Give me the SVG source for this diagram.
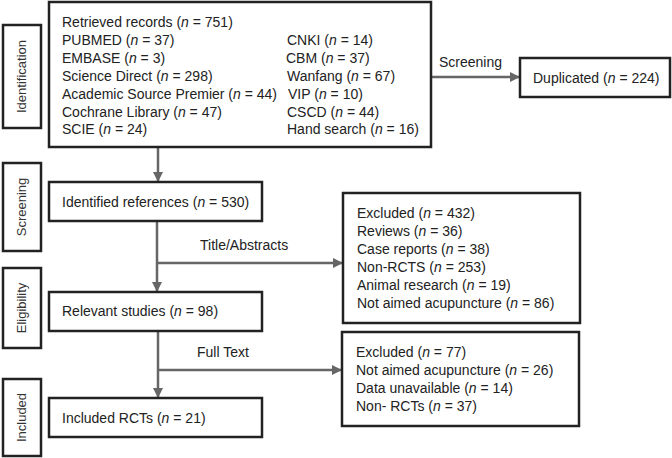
<svg xmlns="http://www.w3.org/2000/svg" width="672" height="458" viewBox="0 0 672 458">
<style>
.box{fill:#fff;stroke:#222;stroke-width:2.5}
.t{font-family:"Liberation Sans",Arial,sans-serif;font-size:14px;fill:#222}
.lab{font-family:"Liberation Sans",Arial,sans-serif;font-size:13px;fill:#333;text-anchor:middle}
.c{stroke:#666;stroke-width:2.5;fill:none}
</style>
<defs>
<marker id="ah" viewBox="0 0 10 10" refX="10" refY="5" markerWidth="4" markerHeight="4" orient="auto" markerUnits="strokeWidth">
<path d="M0,0 L10,5 L0,10 z" fill="#666"/>
</marker>
</defs>
<rect width="672" height="458" fill="#fff"/>
<g id="stage-identification"><rect class="box" x="3" y="25" width="38" height="103"/><text class="lab" transform="translate(26,76.5) rotate(-90)">Identification</text></g>
<g id="stage-screening"><rect class="box" x="3" y="163" width="38" height="88"/><text class="lab" transform="translate(26,207) rotate(-90)">Screening</text></g>
<g id="stage-eligibility"><rect class="box" x="3" y="268" width="38" height="80"/><text class="lab" transform="translate(26,308) rotate(-90)">Eligibility</text></g>
<g id="stage-included"><rect class="box" x="3" y="379" width="38" height="77"/><text class="lab" transform="translate(26,417.5) rotate(-90)">Included</text></g>
<g id="connectors">
<path class="c" d="M431,77 H520" marker-end="url(#ah)"/>
<path class="c" d="M158,147 V182" marker-end="url(#ah)"/>
<path class="c" d="M157,221 V292" marker-end="url(#ah)"/>
<path class="c" d="M157,263 H343" marker-end="url(#ah)"/>
<path class="c" d="M158,331 V398" marker-end="url(#ah)"/>
<path class="c" d="M158,370 H342" marker-end="url(#ah)"/>
<text class="t" x="439" y="67">Screening</text>
<text class="t" x="200" y="250">Title/Abstracts</text>
<text class="t" x="197" y="357">Full Text</text>
</g>
<g id="retrieved"><rect class="box" x="49" y="2" width="382" height="145"/>
<text class="t" x="62" y="27">Retrieved records (<tspan font-style="italic">n</tspan> = 751)</text>
<text class="t" x="62" y="45">PUBMED (<tspan font-style="italic">n</tspan> = 37)</text>
<text class="t" x="62" y="63">EMBASE (<tspan font-style="italic">n</tspan> = 3)</text>
<text class="t" x="62" y="81">Science Direct (<tspan font-style="italic">n</tspan> = 298)</text>
<text class="t" x="62" y="99" textLength="215" lengthAdjust="spacingAndGlyphs">Academic Source Premier (<tspan font-style="italic">n</tspan> = 44)</text>
<text class="t" x="62" y="117">Cochrane Library (<tspan font-style="italic">n</tspan> = 47)</text>
<text class="t" x="62" y="134">SCIE (<tspan font-style="italic">n</tspan> = 24)</text>
<text class="t" x="287" y="45">CNKI (<tspan font-style="italic">n</tspan> = 14)</text>
<text class="t" x="286" y="63">CBM (<tspan font-style="italic">n</tspan> = 37)</text>
<text class="t" x="287" y="81">Wanfang (<tspan font-style="italic">n</tspan> = 67)</text>
<text class="t" x="288" y="99">VIP (<tspan font-style="italic">n</tspan> = 10)</text>
<text class="t" x="287" y="117">CSCD (<tspan font-style="italic">n</tspan> = 44)</text>
<text class="t" x="287" y="134">Hand search (<tspan font-style="italic">n</tspan> = 16)</text>
</g>
<g id="duplicated"><rect class="box" x="520" y="58" width="150" height="39"/><text class="t" x="533" y="83">Duplicated (<tspan font-style="italic">n</tspan> = 224)</text></g>
<g id="identified"><rect class="box" x="49" y="182" width="213" height="39"/><text class="t" x="62" y="207">Identified references (<tspan font-style="italic">n</tspan> = 530)</text></g>
<g id="excluded1"><rect class="box" x="343" y="193" width="237" height="130"/>
<text class="t" x="357" y="218">Excluded (<tspan font-style="italic">n</tspan> = 432)</text>
<text class="t" x="357" y="236">Reviews (<tspan font-style="italic">n</tspan> = 36)</text>
<text class="t" x="357" y="254">Case reports (<tspan font-style="italic">n</tspan> = 38)</text>
<text class="t" x="357" y="272">Non-RCTS (<tspan font-style="italic">n</tspan> = 253)</text>
<text class="t" x="357" y="290">Animal research (<tspan font-style="italic">n</tspan> = 19)</text>
<text class="t" x="357" y="308">Not aimed acupuncture (<tspan font-style="italic">n</tspan> = 86)</text>
</g>
<g id="relevant"><rect class="box" x="49" y="292" width="213" height="39"/><text class="t" x="62" y="316">Relevant studies (<tspan font-style="italic">n</tspan> = 98)</text></g>
<g id="excluded2"><rect class="box" x="342" y="332" width="237" height="94"/>
<text class="t" x="356" y="357">Excluded (<tspan font-style="italic">n</tspan> = 77)</text>
<text class="t" x="356" y="375">Not aimed acupuncture (<tspan font-style="italic">n</tspan> = 26)</text>
<text class="t" x="356" y="393">Data unavailable (<tspan font-style="italic">n</tspan> = 14)</text>
<text class="t" x="356" y="411">Non- RCTs (<tspan font-style="italic">n</tspan> = 37)</text>
</g>
<g id="included"><rect class="box" x="49" y="398" width="213" height="39"/><text class="t" x="62" y="423">Included RCTs (<tspan font-style="italic">n</tspan> = 21)</text></g>
</svg>
